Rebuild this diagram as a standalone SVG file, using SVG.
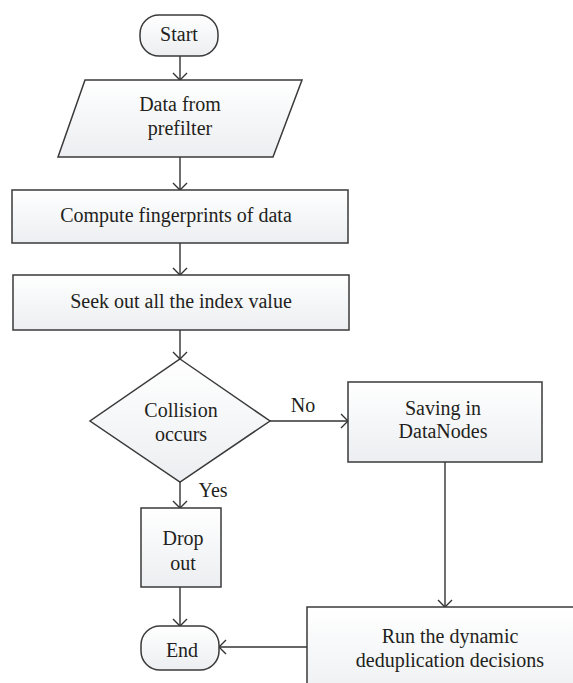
<svg xmlns="http://www.w3.org/2000/svg" width="573" height="683" viewBox="0 0 573 683">
<defs>
<linearGradient id="g" x1="0" y1="0" x2="0" y2="1">
<stop offset="0" stop-color="#ffffff"/>
<stop offset="1" stop-color="#eceef1"/>
</linearGradient>
<marker id="ah" markerUnits="userSpaceOnUse" markerWidth="18" markerHeight="18" refX="9" refY="8" orient="auto" viewBox="0 0 18 16">
<path d="M2,1 L9,8 L2,15" fill="none" stroke="#333" stroke-width="1.4"/>
</marker>
<style>
.s{fill:url(#g);stroke:#3a3a3a;stroke-width:1.5}
.t{font-family:"Liberation Serif","Times New Roman",serif;font-size:20px;fill:#231f20;text-anchor:middle}
.c{fill:none;stroke:#333;stroke-width:1.4;marker-end:url(#ah)}
</style>
</defs>
<rect width="573" height="683" fill="#ffffff"/>
<g id="connectors">
<line class="c" x1="180" y1="56" x2="180" y2="80"/>
<line class="c" x1="180" y1="157" x2="180" y2="190"/>
<line class="c" x1="180" y1="243" x2="180" y2="275"/>
<line class="c" x1="180" y1="330" x2="180" y2="359"/>
<line class="c" x1="270" y1="421" x2="348" y2="421"/>
<line class="c" x1="180" y1="482" x2="180" y2="508"/>
<line class="c" x1="180" y1="587" x2="180" y2="626"/>
<line class="c" x1="445" y1="462" x2="445" y2="607"/>
<line class="c" x1="307" y1="647" x2="219" y2="647"/>
<text class="t" x="303" y="412">No</text>
<text class="t" x="213" y="497">Yes</text>
</g>
<g id="start">
<rect class="s" x="140" y="15" width="78" height="41" rx="19" ry="19"/>
<text class="t" x="179" y="41">Start</text>
</g>
<g id="data">
<polygon class="s" points="85,80 302,80 273,157 58,157"/>
<text class="t" x="180" y="111">Data from</text>
<text class="t" x="180" y="135">prefilter</text>
</g>
<g id="compute">
<rect class="s" x="12" y="190" width="336" height="53"/>
<text class="t" x="176" y="222">Compute fingerprints of data</text>
</g>
<g id="seek">
<rect class="s" x="13" y="275" width="336" height="55"/>
<text class="t" x="181" y="308">Seek out all the index value</text>
</g>
<g id="collision">
<polygon class="s" points="180,359 270,421 180,482 90,421"/>
<text class="t" x="181" y="417">Collision</text>
<text class="t" x="181" y="441">occurs</text>
</g>
<g id="saving">
<rect class="s" x="348" y="382" width="194" height="80"/>
<text class="t" x="443" y="415">Saving in</text>
<text class="t" x="443" y="438">DataNodes</text>
</g>
<g id="drop">
<rect class="s" x="141" y="508" width="80" height="79"/>
<text class="t" x="183" y="545">Drop</text>
<text class="t" x="183" y="570">out</text>
</g>
<g id="end">
<rect class="s" x="141" y="626" width="78" height="44" rx="19" ry="19"/>
<text class="t" x="182" y="657">End</text>
</g>
<g id="run">
<rect class="s" x="307" y="607" width="290" height="100"/>
<text class="t" x="450" y="643">Run the dynamic</text>
<text class="t" x="450" y="667">deduplication decisions</text>
</g>
</svg>
